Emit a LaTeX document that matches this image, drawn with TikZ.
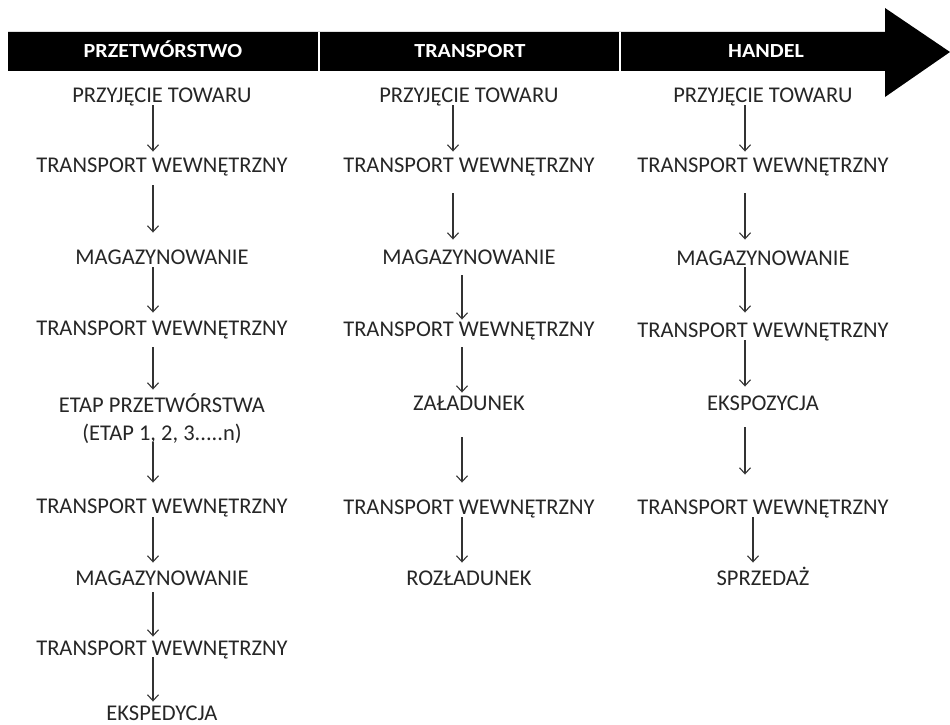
\documentclass[tikz,border=0pt]{standalone}
\usepackage{fontspec}
\setmainfont{Carlito}
\usetikzlibrary{arrows.meta,calc}
\tikzset{
  lbl/.style={font=\fontsize{22.5}{26}\selectfont, text=black!85, inner sep=0pt, text height=14.5pt, text depth=0pt},
  hdr/.style={font=\fontsize{20}{24}\selectfont\bfseries, text=white, inner sep=0pt, text height=13pt, text depth=0pt},
  arr/.style={draw=black!80, line width=1.1pt, -{Straight Barb[length=6pt,width=11pt,line width=1.1pt]}}
}
\newcommand{\conn}[5]{\draw[arr] ($(#1.south -| #3)+(0,#4)$) -- ($(#2.north -| #3)+(0,#5)$);}
\newcommand{\hx}[1]{\scalebox{1.1}[1]{#1}}
\begin{document}
\begin{tikzpicture}[x=1pt,y=-1pt]
\useasboundingbox (0,0) rectangle (950,725);
% header arrow
\fill[black] (8,32) -- (885,32) -- (885,8) -- (950,52) -- (885,97) -- (885,71) -- (8,71) -- cycle;
\draw[white, line width=2pt] (319,32) -- (319,71);
\draw[white, line width=2pt] (620,32) -- (620,71);
\node[hdr] (h1) at (163,51) {\hx{PRZETWÓRSTWO}};
\node[hdr] (h2) at (470,51) {\hx{TRANSPORT}};
\node[hdr] (h3) at (766,51) {\hx{HANDEL}};
% column x coordinates for connectors
\coordinate (ax1) at (153,0);
\coordinate (ax2) at (453,0);
\coordinate (ax2b) at (462,0);
\coordinate (ax3) at (745,0);
\coordinate (ax3b) at (753,0);
% column 1
\node[lbl] (p1) at (162,95) {PRZYJĘCIE TOWARU};
\node[lbl] (t11) at (162,165) {TRANSPORT WEWNĘTRZNY};
\node[lbl] (m11) at (162,257) {MAGAZYNOWANIE};
\node[lbl] (t12) at (162,328) {TRANSPORT WEWNĘTRZNY};
\node[lbl] (e11) at (162,405) {ETAP PRZETWÓRSTWA};
\node[lbl] (e12) at (162,433) {(ETAP 1, 2, 3.....n)};
\node[lbl] (t13) at (162,506) {TRANSPORT WEWNĘTRZNY};
\node[lbl] (m12) at (162,578) {MAGAZYNOWANIE};
\node[lbl] (t14) at (162,648) {TRANSPORT WEWNĘTRZNY};
\node[lbl] (x1) at (162,713) {EKSPEDYCJA};
\conn{p1}{t11}{ax1}{3}{-6}
\conn{t11}{m11}{ax1}{13}{-17}
\conn{m11}{t12}{ax1}{3}{-8}
\conn{t12}{e11}{ax1}{12}{-8}
\conn{e12}{t13}{ax1}{2}{-16}
\conn{t13}{m12}{ax1}{4}{-8}
\conn{m12}{t14}{ax1}{7}{-4}
\conn{t14}{x1}{ax1}{2}{-4}
% column 2
\node[lbl] (p2) at (469,95) {PRZYJĘCIE TOWARU};
\node[lbl] (t21) at (469,165) {TRANSPORT WEWNĘTRZNY};
\node[lbl] (m21) at (469,257) {MAGAZYNOWANIE};
\node[lbl] (t22) at (469,329) {TRANSPORT WEWNĘTRZNY};
\node[lbl] (z2) at (469,403) {ZAŁADUNEK};
\node[lbl] (t23) at (469,507) {TRANSPORT WEWNĘTRZNY};
\node[lbl] (r2) at (469,578) {ROZŁADUNEK};
\conn{p2}{t21}{ax2}{3}{-6}
\conn{t21}{m21}{ax2}{21}{-10}
\conn{m21}{t22}{ax2b}{11}{-2}
\conn{t22}{z2}{ax2b}{11}{-3}
\conn{z2}{t23}{ax2b}{27}{-17}
\conn{t23}{r2}{ax2b}{3}{-8}
% column 3
\node[lbl] (p3) at (763,95) {PRZYJĘCIE TOWARU};
\node[lbl] (t31) at (763,165) {TRANSPORT WEWNĘTRZNY};
\node[lbl] (m31) at (763,258) {MAGAZYNOWANIE};
\node[lbl] (t32) at (763,330) {TRANSPORT WEWNĘTRZNY};
\node[lbl] (e3) at (763,403) {EKSPOZYCJA};
\node[lbl] (t33) at (763,507) {TRANSPORT WEWNĘTRZNY};
\node[lbl] (s3) at (763,578) {SPRZEDAŻ};
\conn{p3}{t31}{ax3}{3}{-6}
\conn{t31}{m31}{ax3}{21}{-11}
\conn{m31}{t32}{ax3}{2}{-10}
\conn{t32}{e3}{ax3}{3}{-9}
\conn{e3}{t33}{ax3}{17}{-25}
\conn{t33}{s3}{ax3b}{3}{-8}
\end{tikzpicture}
\end{document}
